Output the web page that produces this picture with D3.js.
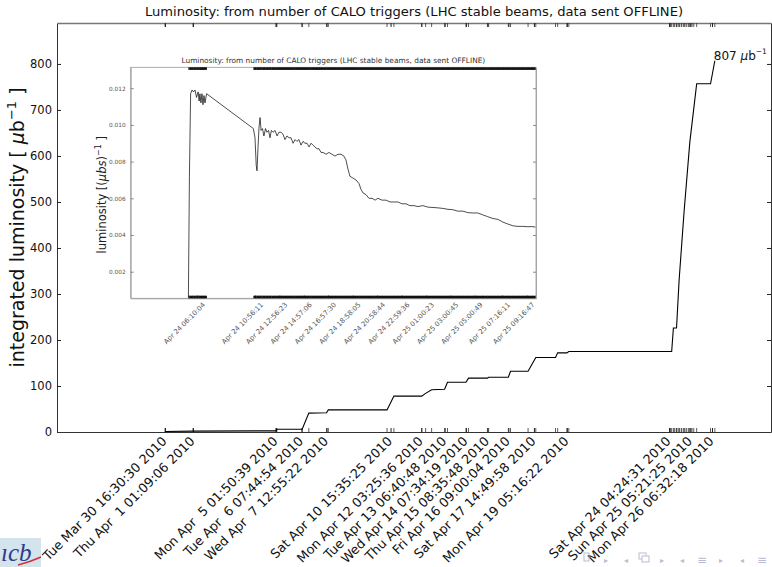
<!DOCTYPE html>
<html><head><meta charset="utf-8">
<script src="https://cdn.jsdelivr.net/npm/d3@7/dist/d3.min.js"></script>
<style>
body{margin:0;background:#fff;}
svg{display:block;font-family:"DejaVu Sans",sans-serif;}
</style></head><body>
<svg id="chart" width="772" height="567"></svg>
<script>
// ---------------- data ----------------
const mainTitle = "Luminosity: from number of CALO triggers (LHC stable beams, data sent OFFLINE)";
const mainDomain = ["2010-03-25 10:32", "2010-04-29 03:21"];
const mainTimes = ["2010-03-30 16:30","2010-04-01 01:09","2010-04-05 01:50","2010-04-05 03:00","2010-04-06 08:30","2010-04-06 16:15","2010-04-07 12:55","2010-04-07 15:00","2010-04-10 11:30","2010-04-10 19:30","2010-04-12 04:00","2010-04-12 08:30","2010-04-12 15:30","2010-04-13 06:40","2010-04-13 10:00","2010-04-14 07:34","2010-04-14 10:30","2010-04-15 08:35","2010-04-15 10:00","2010-04-16 09:00","2010-04-16 11:30","2010-04-17 08:00","2010-04-17 17:00","2010-04-18 16:00","2010-04-18 18:30","2010-04-19 05:16","2010-04-19 07:30","2010-04-24 07:30","2010-04-24 09:30","2010-04-24 13:10","2010-04-24 16:10","2010-04-24 22:00","2010-04-25 04:40","2010-04-25 12:40","2010-04-26 04:50","2010-04-26 09:50"];
const mainValues = [1,2,2.5,6,6,41,42,48,48,78,78,84,92,93,108,108,117,117,119,119,132,132,162,162,172,172,175,175,226,226,330,480,630,757,757,807];
const mainTickTimes = ["2010-03-30 16:30:30","2010-04-01 01:09:06","2010-04-05 01:50:39","2010-04-06 07:44:54","2010-04-07 12:55:22","2010-04-10 15:35:25","2010-04-12 03:25:36","2010-04-13 06:40:48","2010-04-14 07:34:19","2010-04-15 08:35:48","2010-04-16 09:00:04","2010-04-17 14:49:58","2010-04-19 05:16:22","2010-04-24 04:24:31","2010-04-25 05:21:25","2010-04-26 06:32:18"];
const mainTickLabels = ["Tue Mar 30 16:30:30 2010","Thu Apr  1 01:09:06 2010","Mon Apr  5 01:50:39 2010","Tue Apr  6 07:44:54 2010","Wed Apr  7 12:55:22 2010","Sat Apr 10 15:35:25 2010","Mon Apr 12 03:25:36 2010","Tue Apr 13 06:40:48 2010","Wed Apr 14 07:34:19 2010","Thu Apr 15 08:35:48 2010","Fri Apr 16 09:00:04 2010","Sat Apr 17 14:49:58 2010","Mon Apr 19 05:16:22 2010","Sat Apr 24 04:24:31 2010","Sun Apr 25 05:21:25 2010","Mon Apr 26 06:32:18 2010"];
const yTicks = [0,100,200,300,400,500,600,700,800];
const yMax = 889;

const insetDomain = ["2010-04-24 00:42", "2010-04-25 10:04"];
const insetTimes = ["2010-04-24 05:27","2010-04-24 05:32","2010-04-24 05:38","2010-04-24 05:45","2010-04-24 05:52","2010-04-24 06:00","2010-04-24 06:07","2010-04-24 06:15","2010-04-24 06:20","2010-04-24 06:24","2010-04-24 06:29","2010-04-24 06:34","2010-04-24 06:39","2010-04-24 06:44","2010-04-24 06:49","2010-04-24 06:57",
"2010-04-24 10:48","2010-04-24 10:56","2010-04-24 11:02","2010-04-24 11:06","2010-04-24 11:11","2010-04-24 11:16","2010-04-24 11:21","2010-04-24 11:26","2010-04-24 11:33","2010-04-24 11:40","2010-04-24 11:48","2010-04-24 11:55","2010-04-24 12:03","2010-04-24 12:10","2010-04-24 12:17","2010-04-24 12:25","2010-04-24 12:35","2010-04-24 12:45","2010-04-24 12:54","2010-04-24 13:04","2010-04-24 13:14","2010-04-24 13:24","2010-04-24 13:34","2010-04-24 13:44","2010-04-24 13:54","2010-04-24 14:04","2010-04-24 14:14","2010-04-24 14:23","2010-04-24 14:33","2010-04-24 14:43","2010-04-24 14:53","2010-04-24 15:03","2010-04-24 15:13","2010-04-24 15:23","2010-04-24 15:33","2010-04-24 15:42","2010-04-24 15:52","2010-04-24 16:02","2010-04-24 16:12","2010-04-24 16:22","2010-04-24 16:32","2010-04-24 16:47","2010-04-24 17:01","2010-04-24 17:16","2010-04-24 17:31","2010-04-24 17:46","2010-04-24 18:01","2010-04-24 18:15","2010-04-24 18:25","2010-04-24 18:35","2010-04-24 18:45","2010-04-24 19:00","2010-04-24 19:15","2010-04-24 19:30","2010-04-24 19:39","2010-04-24 19:49","2010-04-24 20:04","2010-04-24 20:19","2010-04-24 20:34","2010-04-24 20:49","2010-04-24 21:03","2010-04-24 21:23","2010-04-24 21:43","2010-04-24 22:03","2010-04-24 22:22","2010-04-24 22:42","2010-04-24 23:02","2010-04-24 23:22","2010-04-24 23:41","2010-04-25 00:01","2010-04-25 00:21","2010-04-25 00:45","2010-04-25 01:10","2010-04-25 01:35","2010-04-25 01:59","2010-04-25 02:24","2010-04-25 02:49","2010-04-25 03:13","2010-04-25 03:38","2010-04-25 04:03","2010-04-25 04:27","2010-04-25 04:52","2010-04-25 05:16","2010-04-25 05:41","2010-04-25 06:05","2010-04-25 06:31","2010-04-25 06:56","2010-04-25 07:21","2010-04-25 07:45","2010-04-25 08:10","2010-04-25 08:35","2010-04-25 08:59","2010-04-25 09:24","2010-04-25 09:44","2010-04-25 10:01"];
const insetValues = [0.0006,0.0072,0.0117,0.0119,0.0118,0.0119,0.0115,0.0118,0.0113,0.0117,0.0112,0.0117,0.0111,0.0116,0.0112,0.0117,
0.0098,0.0093,0.0078,0.0075,0.0088,0.0099,0.0104,0.0097,0.0098,0.0094,0.0098,0.0096,0.0097,0.0093,0.0097,0.0096,0.0097,0.0094,0.0096,0.0096,0.0095,0.0092,0.0094,0.0093,0.0093,0.0090,0.0092,0.0091,0.0092,0.0089,0.0091,0.0090,0.0090,0.0088,0.0090,0.0089,0.0088,0.0087,0.0087,0.0085,0.0085,0.0084,0.0085,0.0084,0.0083,0.0084,0.0084,0.0083,0.0081,0.0076,0.0072,0.0071,0.0070,0.0068,0.0065,0.0063,0.0062,0.0060,0.0060,0.0059,0.0060,0.0059,0.0059,0.0058,0.0058,0.0058,0.0057,0.0057,0.0056,0.0056,0.00555,0.0056,0.00552,0.0055,0.00548,0.00545,0.0054,0.00538,0.0053,0.0053,0.00522,0.0052,0.0052,0.0051,0.0050,0.0049,0.00485,0.0047,0.0046,0.0045,0.00447,0.00447,0.00445,0.00446,0.00443];
const insetTickTimes = ["2010-04-24 06:10:04","2010-04-24 10:56:11","2010-04-24 12:56:23","2010-04-24 14:57:06","2010-04-24 16:57:30","2010-04-24 18:58:05","2010-04-24 20:58:44","2010-04-24 22:59:36","2010-04-25 01:00:23","2010-04-25 03:00:45","2010-04-25 05:00:49","2010-04-25 07:16:11","2010-04-25 09:16:47"];
const insetTickLabels = ["Apr 24 06:10:04","Apr 24 10:56:11","Apr 24 12:56:23","Apr 24 14:57:06","Apr 24 16:57:30","Apr 24 18:58:05","Apr 24 20:58:44","Apr 24 22:59:36","Apr 25 01:00:23","Apr 25 03:00:45","Apr 25 05:00:49","Apr 25 07:16:11","Apr 25 09:16:47"];
const insetYTicks = [0.002,0.004,0.006,0.008,0.010,0.012];
const insetYDomain = [0.00055, 0.01314];

// ---------------- layout ----------------
const P = d3.utcParse("%Y-%m-%d %H:%M");
const PS = d3.utcParse("%Y-%m-%d %H:%M:%S");
const M = {l:57, r:771, t:23, b:432};
const I = {l:130.7, r:536, t:67.3, b:298.3};

const svg = d3.select("#chart");
svg.append("rect").attr("width",772).attr("height",567).attr("fill","#fff");

const x = d3.scaleUtc().domain(mainDomain.map(P)).range([M.l, M.r]);
const y = d3.scaleLinear().domain([0, yMax]).range([M.b, M.t]);

const mainData = mainTimes.map((t,i)=>({t:P(t), v:mainValues[i]}));
const tickDates = mainTickTimes.map(PS);
const insetTickDates = insetTickTimes.map(PS);

// title
svg.append("text").attr("x",(M.l+M.r)/2).attr("y",16).attr("text-anchor","middle")
  .attr("font-size",13.1).attr("fill","#111").text(mainTitle);

// axes
const gL = svg.append("g").attr("transform",`translate(${M.l},0)`)
  .call(d3.axisLeft(y).tickValues(yTicks).tickSizeInner(-4).tickSizeOuter(0).tickPadding(5).tickFormat(d3.format("d")));
gL.selectAll("text").attr("font-size",11.5).attr("fill","#111").attr("font-family","DejaVu Sans");
const gR = svg.append("g").attr("transform",`translate(${M.r},0)`)
  .call(d3.axisRight(y).tickValues(yTicks).tickSizeInner(-4).tickSizeOuter(0).tickFormat(""));
const gT = svg.append("g").attr("transform",`translate(0,${M.t})`)
  .call(d3.axisTop(x).tickValues(tickDates).tickSizeInner(-4).tickSizeOuter(0).tickFormat(""));
const gB = svg.append("g").attr("transform",`translate(0,${M.b})`)
  .call(d3.axisBottom(x).tickValues(tickDates).tickSizeInner(-4).tickSizeOuter(0).tickFormat((d,i)=>mainTickLabels[i]));
gB.selectAll("text")
  .attr("font-size",12.8).attr("fill","#111").attr("font-family","DejaVu Sans")
  .attr("text-anchor","end").attr("dy",null).attr("x",2).attr("y",10)
  .attr("transform","rotate(-45,2,10)").style("white-space","pre").attr("xml:space","preserve");
[gL,gR,gT,gB].forEach(g=>{g.select(".domain").attr("stroke","#333"); g.selectAll(".tick line").attr("stroke","#222");});
gT.select(".domain").attr("stroke","#777").attr("stroke-width",1.6);

// rug ticks on main axes (data times + inset label times)
const rugDates = mainData.map(d=>d.t).concat(insetTickDates);
const rug = svg.append("g");
rug.selectAll("line.top").data(rugDates).join("line").attr("class","top")
  .attr("x1",d=>x(d)).attr("x2",d=>x(d)).attr("y1",M.t).attr("y2",M.t+4).attr("stroke","#333").attr("stroke-width",0.8);
rug.selectAll("line.bot").data(rugDates).join("line").attr("class","bot")
  .attr("x1",d=>x(d)).attr("x2",d=>x(d)).attr("y1",M.b).attr("y2",M.b-4).attr("stroke","#333").attr("stroke-width",0.8);

// main line
svg.append("path").datum(mainData).attr("fill","none").attr("stroke","#000").attr("stroke-width",1.1)
  .attr("d", d3.line().x(d=>x(d.t)).y(d=>y(d.v)));

// y label
const yl = svg.append("text").attr("transform",`translate(24,${(M.t+M.b)/2}) rotate(-90)`)
  .attr("text-anchor","middle").attr("font-size",19).attr("fill","#111");
yl.append("tspan").text("integrated luminosity [ ");
yl.append("tspan").attr("font-style","italic").text("μ");
yl.append("tspan").text("b");
yl.append("tspan").attr("font-size",13).attr("dy",-8).text("−1");
yl.append("tspan").attr("dy",8).text(" ]");

// annotation
const last = mainData[mainData.length-1];
const an = svg.append("text").attr("x",x(last.t)-1).attr("y",y(last.v)-1).attr("font-size",12).attr("fill","#111");
an.append("tspan").text(d3.format("d")(last.v)+" ");
an.append("tspan").attr("font-style","italic").text("μ");
an.append("tspan").text("b");
an.append("tspan").attr("font-size",7.5).attr("dy",-6).text("−1");

// ---------------- inset ----------------
const xi = d3.scaleUtc().domain(insetDomain.map(P)).range([I.l, I.r]);
const yi = d3.scaleLinear().domain(insetYDomain).range([I.b, I.t]);
const insetData = insetTimes.map((t,i)=>({t:P(t), v:insetValues[i]}));

svg.append("rect").attr("x",I.l).attr("y",I.t).attr("width",I.r-I.l).attr("height",I.b-I.t)
  .attr("fill","#fff").attr("stroke","#999").attr("stroke-width",0.8);

svg.append("text").attr("x",(I.l+I.r)/2).attr("y",I.t-4).attr("text-anchor","middle")
  .attr("font-size",7.4).attr("fill","#333").text(mainTitle);

const giL = svg.append("g").attr("transform",`translate(${I.l},0)`)
  .call(d3.axisLeft(yi).tickValues(insetYTicks).tickSizeInner(-3).tickSizeOuter(0).tickPadding(5).tickFormat(d3.format(".3f")));
giL.selectAll("text").attr("font-size",5.8).attr("fill","#555").attr("font-family","DejaVu Sans");
const giR = svg.append("g").attr("transform",`translate(${I.r},0)`)
  .call(d3.axisRight(yi).tickValues(insetYTicks).tickSizeInner(-3).tickSizeOuter(0).tickFormat(""));
const giB = svg.append("g").attr("transform",`translate(0,${I.b})`)
  .call(d3.axisBottom(xi).tickValues(insetTickDates).tickSizeInner(-3).tickSizeOuter(0).tickFormat((d,i)=>insetTickLabels[i]));
giB.selectAll("text").attr("font-size",6.8).attr("fill","#555").attr("font-family","DejaVu Sans")
  .attr("text-anchor","end").attr("dy",null).attr("x",8).attr("y",7).attr("transform","rotate(-45,8,7)");
[giL,giR,giB].forEach(g=>{g.select(".domain").attr("stroke","#999").attr("stroke-width",0.8); g.selectAll(".tick line").attr("stroke","#888");});

// inset rug bands (consecutive samples)
const bands = [];
for (let i=0;i<insetData.length-1;i++){
  if (insetData[i+1].t - insetData[i].t <= 60*60*1000) bands.push([insetData[i].t, insetData[i+1].t]);
}
const rb = svg.append("g");
[[I.t,1],[I.b,-1]].forEach(([yy,dir])=>{
  rb.selectAll(null).data(bands).join("rect")
    .attr("x",d=>xi(d[0])).attr("width",d=>Math.max(0.8,xi(d[1])-xi(d[0])+0.3))
    .attr("y",dir>0?yy:yy-2.6).attr("height",2.6).attr("fill","#111");
});

svg.append("path").datum(insetData).attr("fill","none").attr("stroke","#000").attr("stroke-width",0.7)
  .attr("d", d3.line().x(d=>xi(d.t)).y(d=>yi(d.v)));

const yli = svg.append("text").attr("transform",`translate(106,${(I.t+I.b)/2+12}) rotate(-90)`)
  .attr("text-anchor","middle").attr("font-size",11.5).attr("fill","#222");
yli.append("tspan").text("luminosity [(");
yli.append("tspan").attr("font-style","italic").text("μbs");
yli.append("tspan").text(")");
yli.append("tspan").attr("font-size",8).attr("dy",-5).text("−1");
yli.append("tspan").attr("dy",5).text(" ]");

// ---------------- slide decorations ----------------
const logo = svg.append("g");
logo.append("rect").attr("x",0).attr("y",538).attr("width",41).attr("height",29).attr("fill","#d3e4ec");
logo.append("text").attr("x",1).attr("y",561).attr("font-family","Liberation Serif").attr("font-style","italic")
  .attr("font-size",25).attr("fill","#2f3b8c").text("ıcb");
logo.append("path").attr("d","M18,565 Q30,562 41,557").attr("stroke","#d03030").attr("stroke-width",1.5).attr("fill","none");

const nav = svg.append("g").attr("fill","#b9bcd4").attr("font-size",10).attr("font-family","DejaVu Sans");
nav.append("rect").attr("x",584).attr("y",553).attr("width",5).attr("height",8).attr("fill","none").attr("stroke","#b9bcd4");
[[604,"▸"],[624,"◂"],[660,"▸"],[680,"◂"],[719,"▸"],[740,"◂"]].forEach(([px,s])=>nav.append("text").attr("x",px).attr("y",563).attr("font-size",8).text(s));
nav.append("rect").attr("x",639).attr("y",553).attr("width",7).attr("height",6).attr("fill","#fff").attr("stroke","#b9bcd4");
nav.append("rect").attr("x",642).attr("y",556).attr("width",7).attr("height",6).attr("fill","#fff").attr("stroke","#b9bcd4");
nav.append("text").attr("x",697).attr("y",564).attr("font-size",12).text("≡");
nav.append("text").attr("x",757).attr("y",564).attr("font-size",12).text("≡");
</script>
</body></html>
